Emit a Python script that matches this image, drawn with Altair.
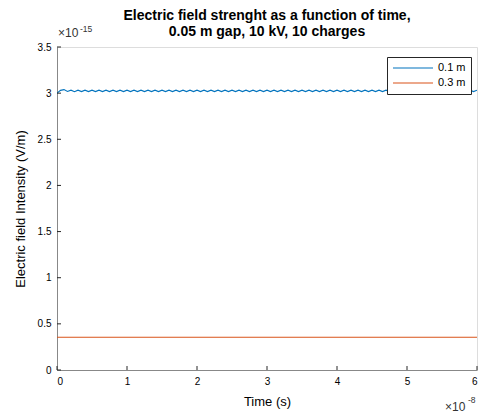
import altair as alt
import pandas as pd

# time in units of 1e-8 s
time = [round(i * 0.05, 2) for i in range(121)]

# field for 0.1 m, in units of 1e-15 V/m
field_01 = [
    3.000, 3.030, 3.038, 3.018, 3.032, 3.016, 3.032, 3.017, 3.032, 3.017,
    3.032, 3.017, 3.032, 3.017, 3.032, 3.017, 3.032, 3.017, 3.032, 3.017,
    3.032, 3.017, 3.032, 3.017, 3.032, 3.017, 3.032, 3.017, 3.032, 3.017,
    3.032, 3.017, 3.032, 3.017, 3.032, 3.017, 3.032, 3.017, 3.032, 3.017,
    3.032, 3.017, 3.032, 3.017, 3.032, 3.017, 3.032, 3.017, 3.032, 3.017,
    3.032, 3.017, 3.032, 3.017, 3.032, 3.017, 3.032, 3.017, 3.032, 3.017,
    3.032, 3.017, 3.032, 3.017, 3.032, 3.017, 3.032, 3.017, 3.032, 3.017,
    3.032, 3.017, 3.032, 3.017, 3.032, 3.017, 3.032, 3.017, 3.032, 3.017,
    3.032, 3.017, 3.032, 3.017, 3.032, 3.017, 3.032, 3.017, 3.032, 3.017,
    3.032, 3.017, 3.032, 3.017, 3.032, 3.017, 3.032, 3.017, 3.032, 3.017,
    3.032, 3.017, 3.032, 3.017, 3.032, 3.017, 3.032, 3.017, 3.032, 3.017,
    3.032, 3.017, 3.032, 3.017, 3.032, 3.017, 3.032, 3.017, 3.032, 3.017,
    3.032,
]
# field for 0.3 m (constant in the picture)
field_03 = [0.355] * len(time)

series_names = ["0.1 m", "0.3 m"]
series_colors = ["#0072BD", "#D95319"]

x_ticks = [0, 1, 2, 3, 4, 5, 6]
y_ticks = [0, 0.5, 1, 1.5, 2, 2.5, 3, 3.5]

W, H = 420, 323
FONT = "Liberation Sans"
INK = "#262626"
LBL = "#333333"

df = pd.DataFrame({
    "t": time * 2,
    "E": field_01 + field_03,
    "series": [series_names[0]] * len(time) + [series_names[1]] * len(time),
})

xscale = alt.Scale(domain=[0, 6], nice=False, zero=False)
yscale = alt.Scale(domain=[0, 3.5], nice=False, zero=False)

lines = alt.Chart(df).mark_line(strokeWidth=1.1, clip=True).encode(
    x=alt.X("t:Q", scale=xscale,
            axis=alt.Axis(values=x_ticks, title="Time (s)", format="d",
                          labelPadding=6, titlePadding=9, ticks=False,
                          grid=False, titleFontSize=13, titleFontWeight="normal")),
    y=alt.Y("E:Q", scale=yscale,
            axis=alt.Axis(values=y_ticks, title="Electric field Intensity (V/m)",
                          format="~g", labelPadding=6, titlePadding=10, ticks=False,
                          grid=False, titleFontSize=13, titleFontWeight="normal")),
    color=alt.Color("series:N",
                    scale=alt.Scale(domain=series_names, range=series_colors),
                    legend=alt.Legend(title=None, orient="none", legendX=330, legendY=10,
                                      fillColor="white", strokeColor=INK,
                                      padding=5, symbolType="stroke",
                                      symbolSize=1600, symbolStrokeWidth=1.2,
                                      clipHeight=12, rowPadding=3,
                                      labelFontSize=11, labelFont=FONT,
                                      labelColor="black", labelOffset=4)),
)

xt = alt.Chart(pd.DataFrame({"v": x_ticks})).mark_rule(color=INK, strokeWidth=1).encode(
    x=alt.X("v:Q", scale=xscale), y=alt.value(H), y2=alt.value(H - 4))
yt = alt.Chart(pd.DataFrame({"v": y_ticks})).mark_rule(color=INK, strokeWidth=1).encode(
    y=alt.Y("v:Q", scale=yscale), x=alt.value(0), x2=alt.value(4))

ann = pd.DataFrame({"a": [0]})
def txt(s, x, y, size):
    return alt.Chart(ann).mark_text(text=s, align="left", baseline="alphabetic",
                                    fontSize=size, font=FONT, color=LBL).encode(
        x=alt.value(x), y=alt.value(y))

exps = [
    txt("\u00d710", 1, -10, 12), txt("-15", 23, -15, 8.5),
    txt("\u00d710", 388, 364, 12), txt("-8", 411, 356, 8.5),
]

chart = alt.layer(lines, xt, yt, *exps).properties(
    width=W, height=H,
    title=alt.Title(["Electric field strenght as a function of time,",
                     "0.05 m gap, 10 kV, 10 charges"],
                    fontSize=14, fontWeight="bold", font=FONT, color="black",
                    anchor="middle", offset=-14, lineHeight=16),
    padding={"left": 57, "top": 47, "right": 3, "bottom": 46},
    autosize=alt.AutoSizeParams(type="none"),
).configure_view(strokeWidth=0).configure_axis(
    domainColor=INK, domainWidth=1, labelColor=LBL, titleColor="#222222",
    labelFont=FONT, titleFont=FONT, labelFontSize=12,
).configure(background="white")

chart.save("out.html", embed_options={"renderer": "svg", "actions": False})
